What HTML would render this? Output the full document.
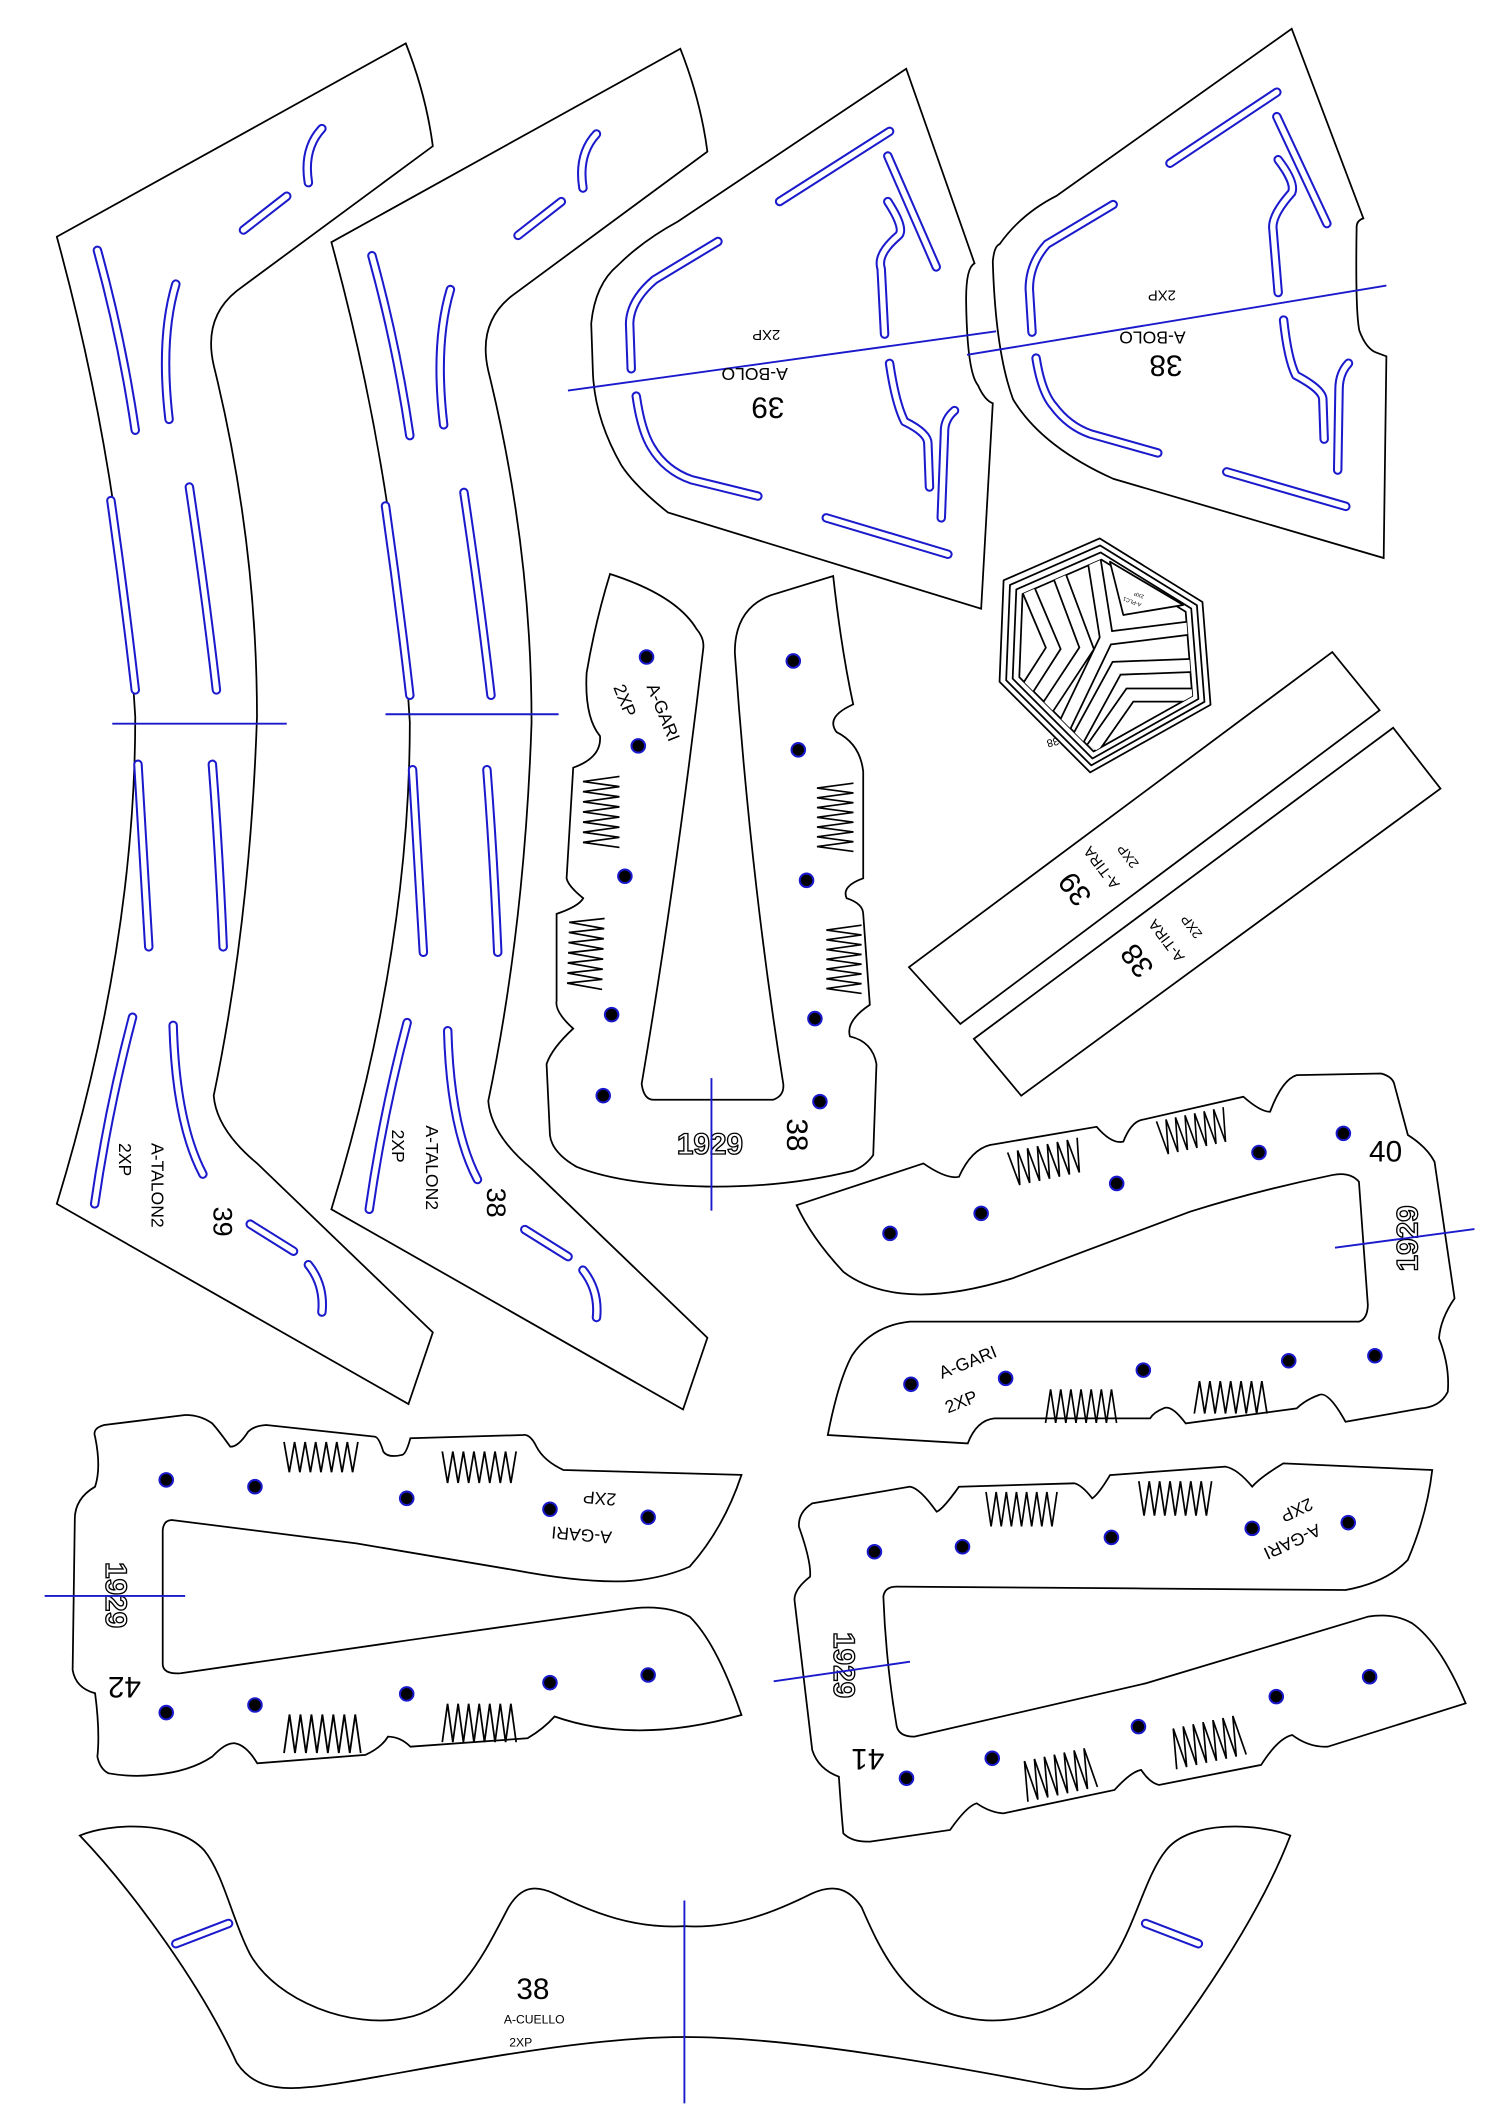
<!DOCTYPE html>
<html><head><meta charset="utf-8"><style>
html,body{margin:0;padding:0;background:#fff}
svg{display:block}
text{font-family:"Liberation Sans",sans-serif;fill:#000}
.o{fill:none;stroke:#000;stroke-width:1.3}
.sb{fill:none;stroke:#1a1acc;stroke-width:7;stroke-linecap:round;stroke-linejoin:round}
.sw{fill:none;stroke:#fff;stroke-width:4;stroke-linecap:round;stroke-linejoin:round}
.bl{stroke:#1a1acc;stroke-width:1.4;fill:none}
.z{fill:none;stroke:#000;stroke-width:1}
.d{fill:#000;stroke:#1a1acc;stroke-width:1.5}
.n{font-weight:bold;fill:#fff;stroke:#000;stroke-width:1}
</style></head><body>
<svg width="1500" height="2121" viewBox="0 0 1109 1568" xmlns="http://www.w3.org/2000/svg">
<defs>
<path id="sl" fill="none" d="M72,185 Q90,250 100,318 M130,210 Q118,250 125,310 M82,370 Q92,440 100,510 M140,360 Q152,440 160,510 M102,565 Q106,630 110,700 M157,565 Q162,630 165,700 M98,752 Q80,820 70,890 M128,758 Q130,830 150,868 M180,170 L212,145 M238,95 Q224,110 228,135 M185,905 L217,925 M228,935 Q240,950 238,970"/>
<g id="talon">
<path class="o" d="M42,175 L300,32 Q315,70 320,108 L175,215 Q150,235 158,270 Q190,400 190,530 Q185,680 158,810 Q160,835 190,860 L320,985 L302,1038 L42,890 Q100,700 100,530 Q90,350 42,175 Z"/>
<use href="#sl" class="sb"/>
<use href="#sl" class="sw"/>
</g>
<polyline id="zz" class="z" points="0,0 3,30 6,0 9,30 12,0 15,30 18,0 21,30 24,0 27,30 30,0 33,30 36,0 39,30 42,0"/>
<path id="s39" fill="none" d="M657.7,97.1 L576.4,148.9 M656.4,115.3 L692.2,197.3 M656.4,149 Q670,170 663.8,174.5 Q648,188 651.5,198.7 L654,247 M530.8,178.5 L484,206.7 Q466,222 465.5,239 L466.7,272.6 M470.4,292.8 Q474,318 481.5,330.4 Q492,348 511.1,354.6 L560.3,366.7 M657.7,268.6 Q662,298 668.8,311.6 Q686,320 686,327.7 L687.2,360 M705.7,303.5 Q698,310 698.3,319.6 L695.9,382.8 M610.9,382.8 L700.8,409.7"/>
<path id="s38" fill="none" d="M944,68.1 L865,120.6 M944,86.2 L981,165.2 M945,118 Q958,135 955,142.3 Q941,158 941,167.8 L945,216.2 M823,151.2 L774,180.5 Q761,195 761,213.6 L763,245.5 M766,264.7 Q770,290 779,300.3 Q790,315 806,320.7 L856,334.8 M949,236.6 Q952,265 958,277.4 Q978,288 978,295.2 L979,324.6 M997,268.5 Q990,276 990,287.7 L989,347.5 M907,348.8 L995,374.3"/>
<path id="scu" fill="none" d="M130,1437 L169,1422 M847,1422 L886,1437"/>
<clipPath id="hc"><polygon points="756,439.1 814.3,413.7 876.6,452.2 881.5,514.5 808.5,555.5 753.6,500.6"/></clipPath>
</defs>

<!-- talons -->
<use href="#talon"/>
<line class="bl" x1="83" y1="535" x2="212" y2="535"/>
<text transform="translate(158,892) rotate(90)" font-size="20">39</text>
<text transform="translate(112,845) rotate(90)" font-size="13">A-TALON2</text>
<text transform="translate(88,845) rotate(90)" font-size="13">2XP</text>
<use href="#talon" transform="translate(203,4)"/>
<line class="bl" x1="285" y1="528" x2="413" y2="528"/>
<text transform="translate(360,878) rotate(90)" font-size="20">38</text>
<text transform="translate(315,832) rotate(90)" font-size="13">A-TALON2</text>
<text transform="translate(290,835) rotate(90)" font-size="13">2XP</text>

<!-- A-BOLO 39 -->
<path class="o" d="M670,50.8 L720.5,194.6 Q714,198 714.3,222.9 Q715,275 723,284.7 Q728,296 734,298.1 L725.4,450 L493.8,378.8 Q470,360 459.3,343.8 Q440,310 438.4,276.6 L437.1,239 Q440,210 456.9,196 Q475,178 501.2,163.7 Z"/>
<use href="#s39" class="sb"/><use href="#s39" class="sw"/>
<line class="bl" x1="419.9" y1="288.7" x2="736.5" y2="244.9"/>
<text transform="translate(567.7,300.8) rotate(180)" font-size="22" text-anchor="middle" dominant-baseline="central">39</text>
<text transform="translate(557.9,276.6) rotate(180)" font-size="13" text-anchor="middle" dominant-baseline="central">A-BOLO</text>
<text transform="translate(566.5,247) rotate(180)" font-size="11" text-anchor="middle" dominant-baseline="central">2XP</text>

<!-- A-BOLO 38 -->
<path class="o" d="M955,21.2 L1008,161.4 Q1003,163 1003,167.8 Q1002,230 1005,244.3 Q1010,258 1018,260.8 L1025,263.4 L1023,412.5 L823,353.9 Q770,330 749,295.2 Q736,260 734,193.3 Q735,182 739,180.5 Q755,158 781,144.8 Z"/>
<use href="#s38" class="sb"/><use href="#s38" class="sw"/>
<line class="bl" x1="715" y1="262.3" x2="1025" y2="211.1"/>
<text transform="translate(862,269.8) rotate(180)" font-size="22" text-anchor="middle" dominant-baseline="central">38</text>
<text transform="translate(852,249.4) rotate(180)" font-size="13" text-anchor="middle" dominant-baseline="central">A-BOLO</text>
<text transform="translate(859,217.5) rotate(180)" font-size="11" text-anchor="middle" dominant-baseline="central">2XP</text>

<!-- hex emblem -->
<g stroke-linejoin="round">
<polygon class="o" points="742,429 813,398 889,445 895,521 806,571 739,504"/>
<polygon class="o" points="746.7,432.4 813.4,403.2 884.9,447.4 890.5,518.8 806.8,565.8 743.9,502.9"/>
<polygon class="o" points="751.4,435.7 813.8,408.4 880.7,449.8 886,516.7 807.7,560.7 748.7,501.7"/>
<polygon class="o" points="756,439.1 814.3,413.7 876.6,452.2 881.5,514.5 808.5,555.5 753.6,500.6"/>
<g clip-path="url(#hc)">
<g fill="none" stroke="#000" stroke-width="11" stroke-linejoin="miter">
<polyline points="757.8,430 778.7,479.3 752,521"/>
<polyline points="781.2,420 803.4,479.3 766,536"/>
<polyline points="808.3,410 818.1,471.9 890,463"/>
<polyline points="818.1,471.9 784,543"/>
<polyline points="890,491.6 825.5,494 796,548"/>
<polyline points="890,513.8 835.4,513.8 808,553"/>
</g>
<g fill="none" stroke="#fff" stroke-width="8.4" stroke-linejoin="miter">
<polyline points="757.8,430 778.7,479.3 752,521"/>
<polyline points="781.2,420 803.4,479.3 766,536"/>
<polyline points="808.3,410 818.1,471.9 890,463"/>
<polyline points="818.1,471.9 784,543"/>
<polyline points="890,491.6 825.5,494 796,548"/>
<polyline points="890,513.8 835.4,513.8 808,553"/>
</g>
</g>
<polygon class="o" points="820.6,415.2 874.8,447.2 830.5,454.6" fill="#fff" style="fill:#fff"/>
<text transform="translate(846,440) rotate(200)" font-size="4">2XP</text>
<text transform="translate(844,446) rotate(200)" font-size="4">A-PLC1</text>
<text transform="translate(782,545) rotate(165)" font-size="8">38</text>
</g>

<!-- A-TIRA strips -->
<polygon class="o" points="672,715 985,482 1020,525 710,757"/>
<polygon class="o" points="720,768 1030,538 1065,583 755,810"/>
<g text-anchor="middle" dominant-baseline="central">
<text transform="translate(795,657) rotate(233)" font-size="22">39</text>
<text transform="translate(815,641) rotate(233)" font-size="11">A-TIRA</text>
<text transform="translate(834,633) rotate(233)" font-size="10">2XP</text>
<text transform="translate(841,710) rotate(233)" font-size="22">38</text>
<text transform="translate(863,695) rotate(233)" font-size="11">A-TIRA</text>
<text transform="translate(881,685) rotate(233)" font-size="10">2XP</text>
</g>

<!-- A-GARI vertical 38 -->
<path class="o" d="M451,424.3 Q500,440 515,465 Q521,472 519.9,479.8 Q500,650 474.4,801.3 Q476,813 483,813 L571.7,813 Q580,810 579.1,801.3 Q555,650 543.3,482.8 Q543,450 570,440 L616,425.8 Q622,480 630.8,520.7 Q610,530 618.5,541.2 Q636,550 638.2,570.4 L638.2,649.3 Q622,655 625.9,664 Q638,668 638.2,675.6 L643.1,742.8 Q625,755 628.4,766.2 Q645,770 648,786.6 L645.6,853.9 Q640,862 630.8,865.5 Q580,878 522.4,877.2 Q460,876 426.3,862.6 Q408,852 406.6,839.2 L404.1,786.6 Q408,775 423.8,760.4 Q410,748 411.5,739.9 L411.5,675.6 Q428,670 431.2,664 Q420,655 418.9,649.3 L423.8,567.5 Q445,560 443.6,544.1 Q432,530 433.7,497.4 Q440,460 451,424.3 Z"/>
<g class="d"><circle cx="478" cy="485.7" r="5"/><circle cx="471.9" cy="551.4" r="5"/><circle cx="462" cy="647.8" r="5"/><circle cx="452.2" cy="750.1" r="5"/><circle cx="446" cy="810" r="5"/><circle cx="586.5" cy="488.6" r="5"/><circle cx="590.2" cy="554.3" r="5"/><circle cx="596.3" cy="650.8" r="5"/><circle cx="602.5" cy="753" r="5"/><circle cx="606.2" cy="814.4" r="5"/></g>
<use href="#zz" transform="translate(458,574) rotate(90) scale(1.25,0.9)"/>
<use href="#zz" transform="translate(447,679) rotate(92) scale(1.25,0.87)"/>
<use href="#zz" transform="translate(631,579) rotate(90) scale(1.2,0.9)"/>
<use href="#zz" transform="translate(637,684) rotate(90) scale(1.2,0.87)"/>
<text transform="translate(490.4,526.6) rotate(68)" font-size="13" text-anchor="middle" dominant-baseline="central">A-GARI</text>
<text transform="translate(462,517.8) rotate(68)" font-size="13" text-anchor="middle" dominant-baseline="central">2XP</text>
<text x="524.9" y="853" font-size="22" class="n" text-anchor="middle">1929</text>
<text transform="translate(589,839) rotate(90)" font-size="22" text-anchor="middle" dominant-baseline="central">38</text>
<line class="bl" x1="526" y1="797" x2="526" y2="895"/>

<!-- A-GARI 40 -->
<path class="o" d="M589,891 L682.7,860.1 Q700,872 709,870 Q718,850 731.9,846.5 L810.8,833 Q822,846 830.5,844 Q836,830 843.7,828 L919.3,810.8 Q932,822 939,821.9 Q948,798 958.7,794.8 L1021.1,793.6 Q1030,796 1031,802.2 L1040.9,839.1 Q1055,848 1060.6,858.9 L1075.4,959.9 Q1065,975 1063.9,989.4 Q1072,1010 1070.4,1028.9 Q1065,1040 1050.7,1041.2 L994.8,1051.1 Q982,1028 975.1,1031.3 Q965,1035 958.7,1041.2 L876.6,1052.3 Q866,1038 860.1,1041.2 Q853,1044 850.3,1048.6 L735.2,1048.6 Q722,1050 715.5,1067.1 L612,1060.9 Q620,1020 630.1,1001.8 Q645,980 672.8,977.1 L1004.7,977.1 Q1011,975 1011.3,964.8 L1004.7,873.6 Q998,866 985,868.7 Q930,880 879.8,895.8 L748.4,945.1 Q700,960 666.3,956.2 Q640,953 623.5,940.2 Q600,915 589,891 Z"/>
<g class="d"><circle cx="658" cy="911.8" r="5"/><circle cx="725.4" cy="897" r="5"/><circle cx="825.6" cy="874.9" r="5"/><circle cx="930.8" cy="852" r="5"/><circle cx="993.2" cy="837.9" r="5"/><circle cx="673.5" cy="1023.4" r="5"/><circle cx="743.5" cy="1019" r="5"/><circle cx="845.3" cy="1012.9" r="5"/><circle cx="952.8" cy="1006" r="5"/><circle cx="1016.5" cy="1002.3" r="5"/></g>
<use href="#zz" transform="translate(745,852) rotate(-12) scale(1.25,0.85)"/>
<use href="#zz" transform="translate(855,829) rotate(-12) scale(1.2,0.85)"/>
<use href="#zz" transform="translate(773,1052) scale(1.25,-0.83)"/>
<use href="#zz" transform="translate(883,1045) scale(1.28,-0.8)"/>
<text transform="translate(1024.4,851.5)" font-size="22" text-anchor="middle" dominant-baseline="central">40</text>
<text transform="translate(1040.9,915.5) rotate(-90)" font-size="22" class="n" text-anchor="middle" dominant-baseline="central">1929</text>
<text transform="translate(715.5,1007) rotate(-22)" font-size="13" text-anchor="middle" dominant-baseline="central">A-GARI</text>
<text transform="translate(710.6,1036.3) rotate(-22)" font-size="13" text-anchor="middle" dominant-baseline="central">2XP</text>
<line class="bl" x1="987" y1="922.4" x2="1090.1" y2="908.6"/>

<!-- A-GARI 42 -->
<path class="o" d="M548.2,1090.4 L416.6,1086.8 Q402,1080 396.6,1069.5 Q392,1060 386.7,1060.9 L303.4,1063.3 Q300,1076 296.7,1075.7 Q287,1078 283.4,1073.2 Q280,1062 276.8,1062.1 L196.8,1053.5 Q188,1054 183.5,1058.4 Q176,1070 170.2,1069.5 Q162,1058 156.9,1052.3 Q148,1046 136.9,1046.1 L77,1053.5 Q68,1056 70.3,1062.1 Q75,1085 70.3,1099.1 Q55,1108 55.3,1123.7 L53.7,1234.6 Q56,1248 70.3,1251.8 Q74,1280 72,1298.7 Q74,1308 80.3,1311 Q97,1314 113.6,1312.2 Q140,1310 156.9,1298.7 Q167,1288 173.5,1288.8 Q182,1290 190.2,1303.6 L270.1,1297.4 Q282,1292 286.8,1283.9 Q296,1284 303.4,1291.3 L390,1285.1 Q402,1278 410,1269 Q470,1290 548.2,1267.9 Q530,1215 509.9,1195.2 Q490,1185 459.9,1190.2 L303.4,1212.4 L133.6,1237 Q120,1238 120.3,1229.7 L120.3,1131.1 Q121,1124 126.9,1123.7 L263.4,1141 L380,1160.7 Q440,1172 473.2,1168.1 Q495,1165 509.9,1158.2 Q535,1130 548.2,1090.4 Z"/>
<g class="d"><circle cx="122.9" cy="1094.1" r="5"/><circle cx="188.5" cy="1099.1" r="5"/><circle cx="300.7" cy="1107.7" r="5"/><circle cx="406.6" cy="1115.8" r="5"/><circle cx="479.2" cy="1121.7" r="5"/><circle cx="122.9" cy="1266.1" r="5"/><circle cx="188.5" cy="1260.5" r="5"/><circle cx="300.7" cy="1252.3" r="5"/><circle cx="406.6" cy="1244" r="5"/><circle cx="479.2" cy="1238.3" r="5"/></g>
<use href="#zz" transform="translate(210,1066) scale(1.3,0.75)"/>
<use href="#zz" transform="translate(327,1073) scale(1.3,0.78)"/>
<use href="#zz" transform="translate(210,1296) scale(1.35,-0.95)"/>
<use href="#zz" transform="translate(327,1288) scale(1.3,-0.95)"/>
<text transform="translate(430,1134.8) rotate(185)" font-size="13" text-anchor="middle" dominant-baseline="central">A-GARI</text>
<text transform="translate(443.3,1107.7) rotate(185)" font-size="13" text-anchor="middle" dominant-baseline="central">2XP</text>
<text transform="translate(85.3,1179.2) rotate(90)" font-size="22" class="n" text-anchor="middle" dominant-baseline="central">1929</text>
<text transform="translate(92,1247) rotate(180)" font-size="22" text-anchor="middle" dominant-baseline="central">42</text>
<line class="bl" x1="33" y1="1179.9" x2="136.9" y2="1179.9"/>

<!-- A-GARI 41 -->
<path class="o" d="M1058.9,1086.8 L948.8,1081.9 Q932,1092 925.8,1099.1 Q915,1086 906.1,1084.3 L820.7,1090.5 Q812,1105 807.5,1107.7 Q800,1098 794.4,1096.6 L709,1099.1 Q697,1116 692.5,1117.6 Q680,1100 672.8,1099.1 L600.5,1111.4 Q590,1118 590.7,1128.7 Q600,1155 598.9,1165.6 Q587,1175 587.4,1182.9 L600.5,1293.8 Q605,1308 620.2,1313.5 Q622,1340 623.5,1355.4 Q630,1362 643.3,1361.5 L702.4,1352.9 Q715,1335 722.1,1333.2 Q732,1340 741.8,1340.6 L824,1323.3 Q836,1310 843.7,1308.5 Q850,1318 856.8,1319.6 L932.4,1304.8 Q945,1285 955.4,1282.7 Q968,1292 981.7,1291.3 L1083.6,1259.3 Q1065,1215 1044.1,1200.1 Q1030,1192 1011.3,1195.2 L847,1244.5 L676.1,1283.9 Q665,1284 663,1276.5 Q655,1230 653.1,1180.4 Q654,1173 663,1173 L840.4,1174.3 L994.8,1175.5 Q1025,1170 1040.8,1153.3 Q1055,1120 1058.9,1086.8 Z"/>
<g class="d"><circle cx="646.5" cy="1147.2" r="5"/><circle cx="711.6" cy="1143.5" r="5"/><circle cx="821.7" cy="1136.6" r="5"/><circle cx="925.8" cy="1129.9" r="5"/><circle cx="996.8" cy="1125.7" r="5"/><circle cx="670.2" cy="1314.7" r="5"/><circle cx="733.6" cy="1299.9" r="5"/><circle cx="841.7" cy="1276.5" r="5"/><circle cx="943.6" cy="1254.3" r="5"/><circle cx="1012.6" cy="1239.6" r="5"/></g>
<use href="#zz" transform="translate(729,1103) scale(1.25,0.85)"/>
<use href="#zz" transform="translate(842,1095) scale(1.28,0.85)"/>
<use href="#zz" transform="translate(760,1332) rotate(-12) scale(1.25,-1)"/>
<use href="#zz" transform="translate(870,1308) rotate(-12) scale(1.25,-1)"/>
<text transform="translate(955.4,1139.8) rotate(155)" font-size="13" text-anchor="middle" dominant-baseline="central">A-GARI</text>
<text transform="translate(958.7,1116.4) rotate(155)" font-size="13" text-anchor="middle" dominant-baseline="central">2XP</text>
<text transform="translate(623.5,1231) rotate(90)" font-size="22" class="n" text-anchor="middle" dominant-baseline="central">1929</text>
<text transform="translate(641.6,1300) rotate(180)" font-size="22" text-anchor="middle" dominant-baseline="central">41</text>
<line class="bl" x1="572" y1="1243" x2="672.8" y2="1228.5"/>

<!-- A-CUELLO -->
<path class="o" d="M59,1357 C80,1348 130,1345 151,1368 C165,1385 172,1420 185,1445 C205,1480 260,1500 299,1492 C340,1485 360,1440 376,1410 C385,1395 395,1393 410,1400 C440,1415 470,1426 506,1424 C540,1426 570,1415 600,1400 C615,1393 627,1395 637,1410 C650,1440 670,1485 716,1492 C755,1500 805,1480 825,1445 C840,1420 848,1385 862,1368 C880,1345 930,1348 954,1357 C930,1420 880,1490 850,1528 C835,1545 805,1546 785,1543 C740,1535 600,1506 506,1506 C410,1506 270,1540 228,1543 C200,1546 185,1540 175,1525 C150,1470 100,1400 59,1357 Z"/>
<use href="#scu" class="sb"/><use href="#scu" class="sw"/>
<line class="bl" x1="506" y1="1405" x2="506" y2="1555"/>
<text x="394" y="1471" font-size="22" text-anchor="middle" dominant-baseline="central">38</text>
<text x="395" y="1493" font-size="9" text-anchor="middle" dominant-baseline="central">A-CUELLO</text>
<text x="385" y="1510" font-size="9" text-anchor="middle" dominant-baseline="central">2XP</text>
</svg>
</body></html>
